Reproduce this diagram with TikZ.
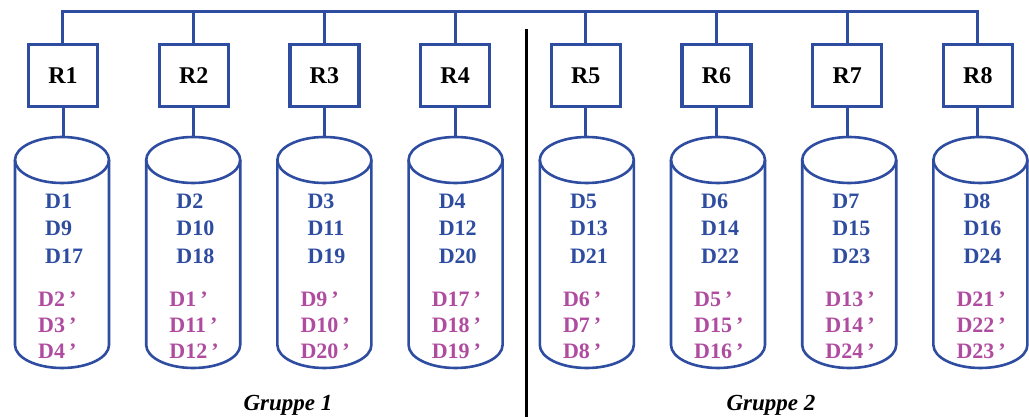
\documentclass[tikz,border=0pt]{standalone}
\usepackage{fontspec}
\setmainfont{Liberation Serif}
\definecolor{raidblue}{RGB}{46,76,160}
\definecolor{mirrorpink}{RGB}{176,76,160}
\begin{document}
\begin{tikzpicture}[x=1pt,y=-1pt,
  wire/.style={draw=raidblue,line width=3pt},
  ctrl/.style={draw=raidblue,line width=3.2pt,fill=white,minimum width=69pt,
    minimum height=62pt,inner sep=0pt,text=black,
    font=\fontsize{24}{24}\selectfont\bfseries},
  disk/.style={draw=raidblue,line width=2.6pt},
  primary/.style={text=raidblue,anchor=base west,inner sep=0pt,
    font=\fontsize{22}{22}\selectfont\bfseries},
  mirror/.style={text=mirrorpink,anchor=base west,inner sep=0pt,
    font=\fontsize{22}{22}\selectfont\bfseries},
  grouplabel/.style={text=black,inner sep=0pt,
    font=\fontsize{23}{23}\selectfont\bfseries\itshape},
  divider/.style={draw=black,line width=3pt}]
\useasboundingbox (0,0) rectangle (1029,417);

% controllers, disks and their contents
\foreach \i/\a/\b/\c/\p/\q/\r in {
  1/D1/D9/D17/D2/D3/D4, 2/D2/D10/D18/D1/D11/D12,
  3/D3/D11/D19/D9/D10/D20, 4/D4/D12/D20/D17/D18/D19,
  5/D5/D13/D21/D6/D7/D8, 6/D6/D14/D22/D5/D15/D16,
  7/D7/D15/D23/D13/D14/D24, 8/D8/D16/D24/D21/D22/D23}{
  \pgfmathsetmacro{\bx}{63+130.7*(\i-1)}
  \pgfmathsetmacro{\cx}{62+131.2*(\i-1)}
  \node[ctrl] (R\i) at (\bx,75.5) {R\i};
  % disk cylinder
  \coordinate (top\i) at (\cx,137);
  \draw[disk] (\cx,160) ellipse [x radius=47, y radius=23];
  \draw[disk] (\cx-47,160) -- (\cx-47,345)
    arc [start angle=180, end angle=0, x radius=47, y radius=23]
    -- (\cx+47,160);
  \draw[wire] (R\i.south) -- (R\i.south |- top\i);
  % primary and mirrored blocks
  \node[primary] (a\i) at (\cx-17,209) {\a};
  \node[primary] (b\i) at (\cx-17,236) {\b};
  \node[primary] (c\i) at (\cx-17,263) {\c};
  \node[mirror] (p\i) at (\cx-24,306) {\p\hspace{4pt}'};
  \node[mirror] (q\i) at (\cx-24,332) {\q\hspace{4pt}'};
  \node[mirror] (r\i) at (\cx-24,358) {\r\hspace{4pt}'};
}

% common bus over all controllers
\coordinate (busL) at (62,12);
\draw[wire] (R1.north -| busL) -- (busL) -| (R8.north);
\foreach \i in {2,...,7}
  \draw[wire] (R\i.north) -- (R\i.north |- busL);

% separation of the two groups
\coordinate (divT) at (526,29);
\coordinate (divB) at (526,417);
\draw[divider] (divT) -- (divB);

\node[grouplabel] (g1) at (288,405) {Gruppe 1};
\node[grouplabel] (g2) at (771,405) {Gruppe 2};
\end{tikzpicture}
\end{document}
